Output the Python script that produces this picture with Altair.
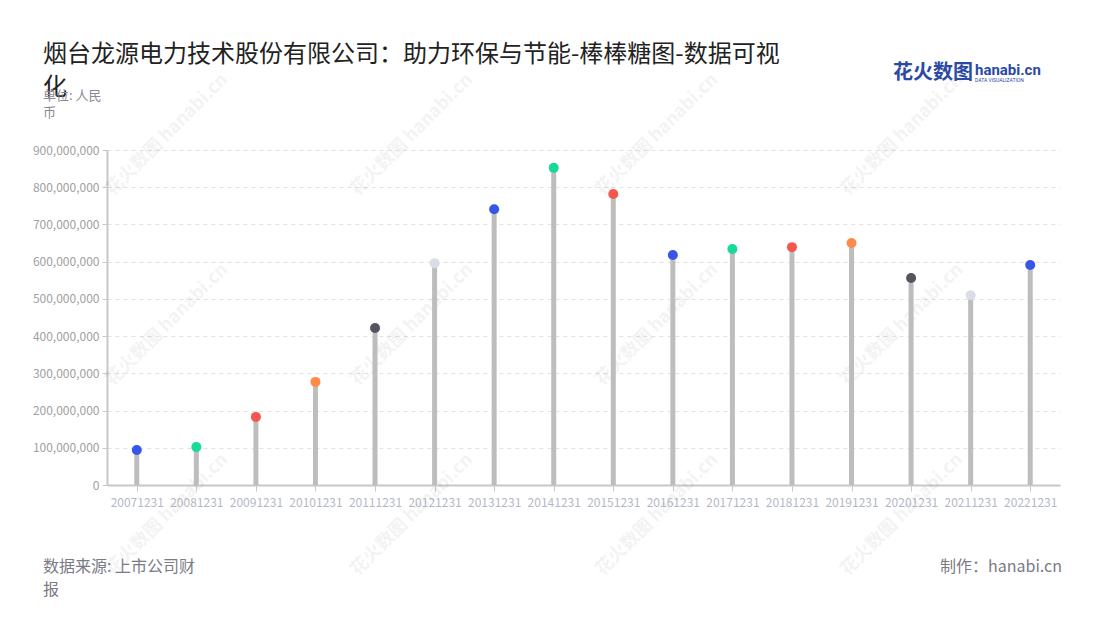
import altair as alt
import pandas as pd

dates = ["20071231", "20081231", "20091231", "20101231", "20111231", "20121231",
         "20131231", "20141231", "20151231", "20161231", "20171231", "20181231",
         "20191231", "20201231", "20211231", "20221231"]
values = [94e6, 102e6, 183e6, 277e6, 422e6, 596e6, 741e6, 852e6, 782e6,
          618e6, 634e6, 639e6, 650e6, 556e6, 510e6, 591e6]
colors = ["#3656e8", "#17d99a", "#f5574f", "#ff8b4a", "#55555f", "#d9dde6",
          "#3656e8", "#17d99a", "#f5574f", "#3656e8", "#17d99a", "#f5574f",
          "#ff8b4a", "#55555f", "#d9dde6", "#3656e8"]
y_ticks = [0, 100e6, 200e6, 300e6, 400e6, 500e6, 600e6, 700e6, 800e6, 900e6]

title_lines = ["烟台龙源电力技术股份有限公司：助力环保与节能-棒棒糖图-数据可视", "化"]
unit_lines = ["单位: 人民", "币"]
source_lines = ["数据来源: 上市公司财", "报"]
maker = "制作：hanabi.cn"

df = pd.DataFrame({"date": dates, "value": values, "color": colors})

W, H = 953, 335
FONT = "Noto Sans CJK SC"

x = alt.X("date:N", sort=dates, title=None,
          scale=alt.Scale(type="point", padding=0.5),
          axis=alt.Axis(labelAngle=0, labelColor="#b4b8c6", labelFontSize=12,
                        labelFont=FONT, domainColor="#c8c8c8", domainWidth=2,
                        tickColor="#c8c8c8", tickSize=6, tickWidth=1, labelPadding=6,
                        grid=False))
y = alt.Y("value:Q", title=None,
          scale=alt.Scale(domain=[0, 900e6], nice=False),
          axis=alt.Axis(values=y_ticks, format=",d", labelOverlap=False,
                        labelColor="#a0a0a0", labelFontSize=12, labelFont=FONT,
                        domainColor="#c8c8c8", domainWidth=2, tickColor="#c8c8c8",
                        tickSize=5, grid=True, gridColor="#e2e2e2", gridDash=[4, 4],
                        labelPadding=3))

base = alt.Chart(df)
stems = base.mark_rule(color="#bdbdbd", strokeWidth=5).encode(
    x=x, y=y, y2=alt.datum(0))
dots = base.mark_circle(size=100, opacity=1).encode(
    x=x, y=y,
    color=alt.Color("color:N", scale=None, legend=None))

# watermarks
wm_rows = []
for yy in [-15, 175, 365]:
    for i in range(4):
        wm_rows.append({"wx": 60 + 245 * i, "wy": yy, "t": "花火数图 hanabi.cn"})
wm_df = pd.DataFrame(wm_rows)
watermark = alt.Chart(wm_df).mark_text(angle=315, fontSize=18, font=FONT,
                                       fontWeight="bold", color="#000000",
                                       opacity=0.045).encode(
    x=alt.X("wx:Q", scale=None, axis=None), y=alt.Y("wy:Q", scale=None, axis=None),
    text="t:N")


def txt(s, xv, yv, size, color, align="left", weight="normal", font=FONT):
    return alt.Chart(pd.DataFrame({"t": [s]})).mark_text(
        align=align, baseline="middle", fontSize=size, color=color,
        fontWeight=weight, font=font).encode(
        x=alt.value(xv), y=alt.value(yv), text="t:N")


texts = [
    txt(title_lines[0], -64, -95, 24, "#222222"),
    txt(title_lines[1], -64, -62, 24, "#222222"),
    txt(unit_lines[0], -64, -54, 13, "#8a8a96"),
    txt(unit_lines[1], -64, -37, 13, "#8a8a96"),
    txt(source_lines[0], -64, 417, 16, "#7a7a88"),
    txt(source_lines[1], -64, 440, 16, "#7a7a88"),
    txt(maker, 955, 417, 16, "#7a7a88", align="right"),
    txt("花火数图", 786, -77, 20, "#2a4aa6", weight="bold"),
    txt("hanabi.cn", 868, -80, 15, "#2a4aa6", weight="bold", font="Roboto"),
    txt("DATA VISUALIZATION", 868, -70, 5, "#2a4aa6", font="Roboto"),
]

chart = alt.layer(watermark, stems, dots, *texts).properties(
    width=W, height=H,
    background="white",
    autosize=alt.AutoSizeParams(type="none"),
    padding={"left": 99, "top": 142, "right": 32, "bottom": 127},
).configure_view(strokeWidth=0, stroke="transparent")

chart.save("out.html", embed_options={"renderer": "svg", "actions": False})
